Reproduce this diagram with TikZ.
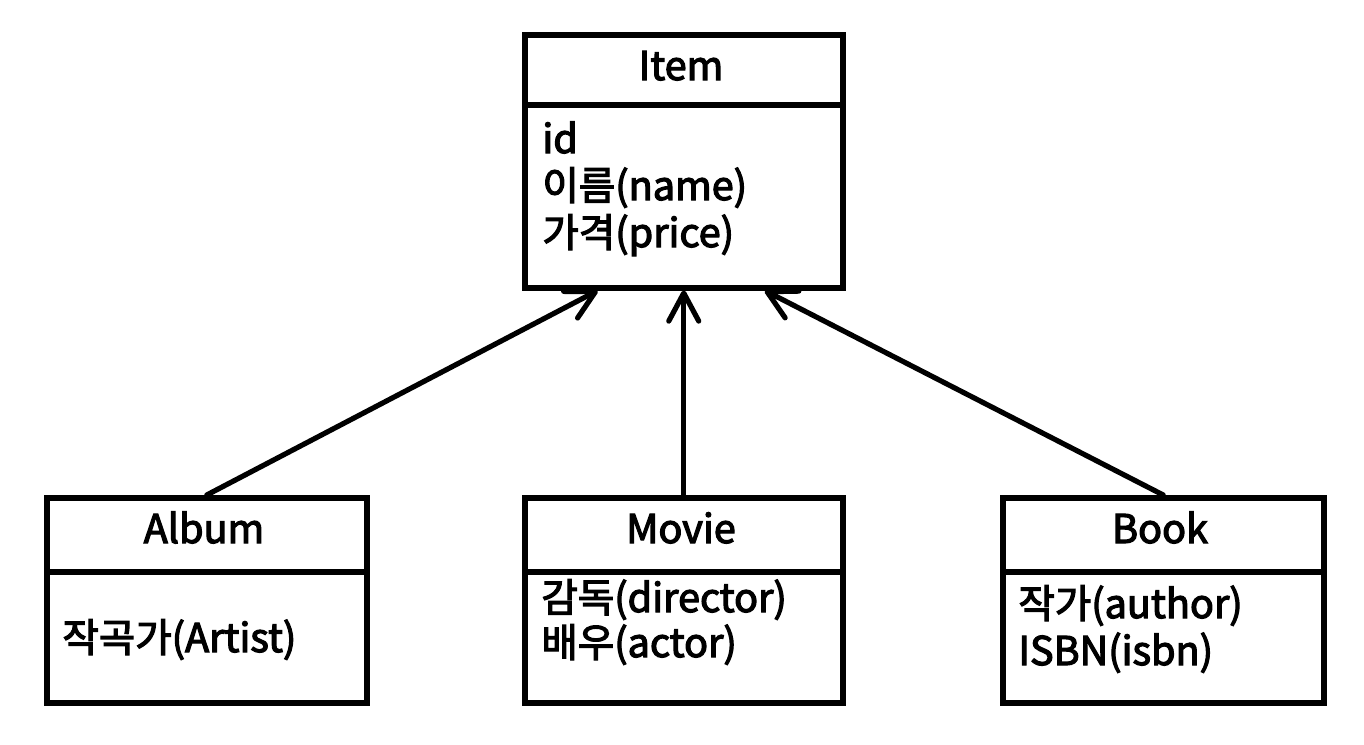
\documentclass[tikz,border=0pt]{standalone}
\usepackage{fontspec}
\setmainfont{Noto Sans CJK KR}
\newfontfamily\lblfont{Noto Sans CJK KR}[FakeBold=3]
\usetikzlibrary{arrows.meta,calc}
\begin{document}
\begin{tikzpicture}[x=0.5pt,y=-0.5pt,
  box/.style={draw, line width=2.75pt, rectangle, inner sep=0pt, anchor=north west},
  txt/.style={inner sep=0pt, font=\lblfont\fontsize{19.8pt}{23pt}\selectfont},
  title/.style={txt, anchor=base},
  attr/.style={txt, anchor=base west},
  inherit/.style={line width=2.6pt, line cap=round, -{Straight Barb[length=14pt,width=15pt,round]}}]
\useasboundingbox (0,0) rectangle (1364,744);

% Item class
\node[box, minimum width=159pt, minimum height=35pt] (itemH) at (522,32) {};
\node[box, minimum width=159pt, minimum height=91.5pt] (itemB) at (522,102) {};
\node[title] (itemT) at (681,80) {Item};
\node[attr] (itemA1) at (542,153) {id};
\node[attr] (itemA2) at (542,200) {이름(name)};
\node[attr] (itemA3) at (542,247) {가격(price)};

% Album class
\node[box, minimum width=160pt, minimum height=37pt] (albumH) at (44,495) {};
\node[box, minimum width=160pt, minimum height=65.5pt] (albumB) at (44,569) {};
\node[title] (albumT) at (204,543) {Album};
\node[attr] (albumA1) at (62,652) {작곡가(Artist)};

% Movie class
\node[box, minimum width=159pt, minimum height=37pt] (movieH) at (522,495) {};
\node[box, minimum width=159pt, minimum height=65.5pt] (movieB) at (522,569) {};
\node[title] (movieT) at (681,543) {Movie};
\node[attr] (movieA1) at (541,612) {감독(director)};
\node[attr] (movieA2) at (541,657) {배우(actor)};

% Book class
\node[box, minimum width=160.5pt, minimum height=37pt] (bookH) at (1000,495) {};
\node[box, minimum width=160.5pt, minimum height=65.5pt] (bookB) at (1000,569) {};
\node[title] (bookT) at (1160,543) {Book};
\node[attr] (bookA1) at (1018,618) {작가(author)};
\node[attr] (bookA2) at (1018,665) {ISBN(isbn)};

% inheritance arrows
\coordinate (tipL) at ($(itemB.south)+(-86,0)$);
\coordinate (tipR) at ($(itemB.south)+(81,0)$);
\draw[inherit] (albumH.north) -- (tipL);
\draw[inherit] (movieH.north) -- (itemB.south);
\draw[inherit] (bookH.north) -- (tipR);
\end{tikzpicture}
\end{document}
